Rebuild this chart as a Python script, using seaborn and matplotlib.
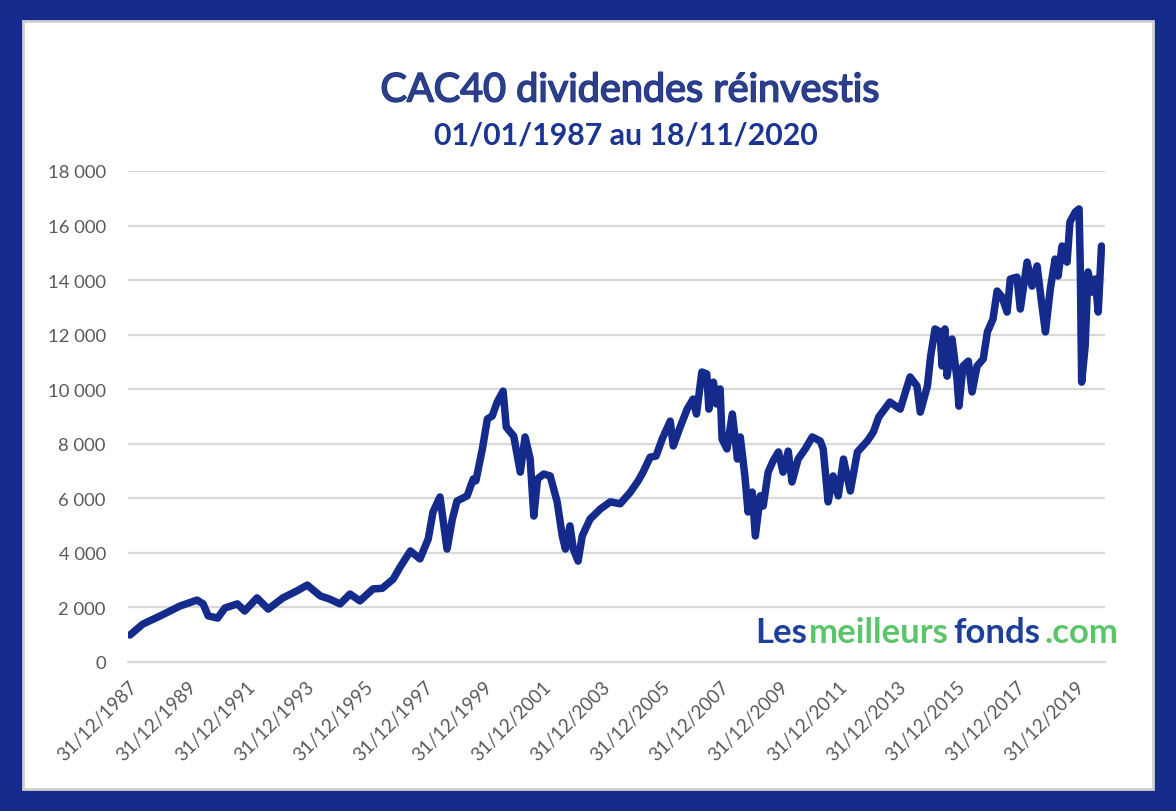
import matplotlib
matplotlib.use("Agg")
import matplotlib.pyplot as plt
import matplotlib.dates as mdates
import matplotlib.patheffects as pe
from matplotlib.patches import Rectangle
from matplotlib.ticker import FuncFormatter
import seaborn as sns
import pandas as pd

# values
dates = [
    "1988-01-25", "1988-07-01", "1989-02-01", "1989-10-01", "1990-04-30", "1990-07-15",
    "1990-09-15", "1991-01-10", "1991-04-10", "1991-09-10", "1991-12-10", "1992-05-10",
    "1992-09-25", "1993-03-25", "1993-09-10", "1994-01-20", "1994-07-01", "1994-10-20",
    "1995-03-01", "1995-07-01", "1995-11-01", "1996-04-10", "1996-08-01", "1996-12-15",
    "1997-03-10", "1997-07-15", "1997-11-10", "1998-02-20", "1998-04-20", "1998-07-15",
    "1998-10-10", "1998-12-15", "1999-02-10", "1999-06-15", "1999-08-30", "1999-10-01",
    "1999-12-20", "2000-02-20", "2000-04-20", "2000-06-20", "2000-09-01", "2000-10-10",
    "2001-01-10", "2001-04-01", "2001-05-30", "2001-08-01", "2001-09-15", "2001-10-30",
    "2002-01-15", "2002-04-05", "2002-06-30", "2002-09-01", "2002-10-10", "2002-12-05",
    "2003-01-15", "2003-03-15", "2003-05-05", "2003-08-10", "2003-12-15", "2004-04-15",
    "2004-08-15", "2004-12-20", "2005-03-25", "2005-05-25", "2005-08-20", "2005-11-01",
    "2006-01-15", "2006-04-25", "2006-06-01", "2006-08-25", "2006-11-20", "2007-02-01",
    "2007-03-15", "2007-05-20", "2007-07-20", "2007-08-15", "2007-10-10", "2007-11-15",
    "2007-12-31", "2008-01-25", "2008-03-25", "2008-05-30", "2008-08-01", "2008-09-05",
    "2008-11-01", "2008-12-10", "2009-01-30", "2009-03-10", "2009-05-10", "2009-06-15",
    "2009-08-15", "2009-10-15", "2009-12-20", "2010-02-15", "2010-04-20", "2010-06-05",
    "2010-08-20", "2010-11-15", "2011-02-10", "2011-05-20", "2011-06-25", "2011-08-25",
    "2011-10-25", "2011-12-28", "2012-03-01", "2012-05-25", "2012-08-20", "2012-12-20",
    "2013-03-05", "2013-05-10", "2013-09-25", "2014-01-30", "2014-06-01", "2014-08-25",
    "2014-10-05", "2015-01-01", "2015-02-10", "2015-04-05", "2015-06-05", "2015-07-01",
    "2015-08-05", "2015-09-01", "2015-11-01", "2016-01-01", "2016-01-25", "2016-03-15",
    "2016-05-20", "2016-07-05", "2016-09-05", "2016-11-20", "2017-01-10", "2017-03-20",
    "2017-05-10", "2017-07-10", "2017-09-10", "2017-10-20", "2018-01-10", "2018-02-20",
    "2018-05-15", "2018-07-15", "2018-09-15", "2018-11-15", "2018-12-27", "2019-02-25",
    "2019-04-25", "2019-06-01", "2019-07-20", "2019-09-20", "2019-10-25", "2019-12-31",
    "2020-02-15", "2020-03-01", "2020-03-18", "2020-04-30", "2020-06-05", "2020-07-25",
    "2020-09-01", "2020-10-08", "2020-11-18",
]
values = [
    990, 1390, 1690, 2050, 2270, 2130,
    1690, 1610, 1980, 2130, 1870, 2350,
    1940, 2350, 2600, 2820, 2420, 2310,
    2130, 2490, 2240, 2680, 2700, 3040,
    3480, 4070, 3780, 4510, 5500, 6050,
    4140, 5240, 5900, 6090, 6710, 6640,
    7810, 8910, 9020, 9530, 9930, 8610,
    8280, 6960, 8250, 7440, 5350, 6710,
    6890, 6820, 5870, 4620, 4140, 4990,
    4140, 3700, 4620, 5240, 5610, 5870,
    5800, 6230, 6640, 6960, 7510, 7550,
    8170, 8830, 7920, 8610, 9270, 9640,
    9090, 10630, 10560, 9270, 10260, 9460,
    10010, 8170, 7810, 9090, 7440, 8250,
    6820, 5500, 6230, 4620, 6090, 5720,
    6960, 7370, 7700, 6960, 7730, 6600,
    7440, 7810, 8250, 8100, 7810, 5870,
    6820, 6090, 7440, 6270, 7700, 8100,
    8430, 8980, 9530, 9270, 10450, 10120,
    9160, 10120, 11220, 12210, 12100, 10850,
    12210, 10480, 11840, 10370, 9380, 10850,
    11030, 9900, 10850, 11110, 12100, 12570,
    13600, 13380, 12830, 14040, 14110, 12940,
    14660, 13780, 14520, 13050, 12100, 13670,
    14770, 14150, 15250, 14660, 16130, 16500,
    16610, 14520, 10260, 11580, 14300, 13560,
    14040, 12830, 15250,
]
tick_dates = ["%d-12-31" % y for y in range(1987, 2020, 2)]
y_ticks = list(range(0, 18001, 2000))

title = "CAC40 dividendes réinvestis"
subtitle = "01/01/1987 au 18/11/2020"

df = pd.DataFrame({"date": pd.to_datetime(dates), "value": values})

BLUE = "#142b8c"
GREY = "#595959"

sns.set_style("white")
plt.rcParams["font.family"] = ["Lato", "DejaVu Sans"]

fig = plt.figure(figsize=(11.76, 8.12), dpi=100, facecolor=BLUE)
fig.patches.append(Rectangle((23 / 1176, 22 / 812), 1130 / 1176, 768 / 812,
                             transform=fig.transFigure, facecolor="white",
                             edgecolor="#d0d0d0", linewidth=2, zorder=-5))

ax = fig.add_axes([128 / 1176, 1 - 663 / 812, 977 / 1176, 491 / 812])
ax.set_zorder(2)
ax.patch.set_alpha(0)
sns.lineplot(data=df, x="date", y="value", ax=ax, color=BLUE, linewidth=5.4,
             solid_joinstyle="round", solid_capstyle="round", zorder=3)

ax.set_xlim(pd.Timestamp("1987-12-31"), pd.Timestamp("2020-12-31"))
ax.set_ylim(0, 18000)
ax.set_yticks(y_ticks)
ax.yaxis.set_major_formatter(FuncFormatter(lambda v, p: f"{int(v):,}".replace(",", " ")))
ax.set_xticks(pd.to_datetime(tick_dates))
ax.xaxis.set_major_formatter(mdates.DateFormatter("%d/%m/%Y"))
ax.grid(axis="y", color="#d9d9d9", linewidth=1.6, zorder=0)
ax.set_axisbelow(True)
for s in ["top", "right", "left"]:
    ax.spines[s].set_visible(False)
ax.spines["bottom"].set_color("#d9d9d9")
ax.spines["bottom"].set_linewidth(1.6)
ax.tick_params(axis="y", length=0, pad=16, labelsize=13.3, labelcolor=GREY)
ax.tick_params(axis="x", length=6, width=1.4, color="#d9d9d9", pad=5,
               labelsize=13.5, labelcolor=GREY)
for lab in ax.get_xticklabels():
    lab.set_rotation(45)
    lab.set_ha("right")
    lab.set_va("top")
    lab.set_rotation_mode("anchor")
ax.set_xlabel("")
ax.set_ylabel("")

fig.text(630 / 1176, 1 - 91 / 812, title, ha="center", va="center", fontsize=28.5,
         color="#2e3f85", path_effects=[pe.withStroke(linewidth=1.2, foreground="#1c3592")])
fig.text(626 / 1176, 1 - 136 / 812, subtitle, ha="center", va="center", fontsize=21.8,
         fontweight="bold", color="#1c3592")

# logo, drawn piece by piece
fig.canvas.draw()
renderer = fig.canvas.get_renderer()
parts = [("Les", "#1e3f9a", 0), ("meilleurs", "#5cc46a", 2), ("fonds", "#1e3f9a", 4), (".com", "#5cc46a", 5)]
x = 755
for txt, col, gap in parts:
    x += gap
    t = fig.text(x / 1176, 1 - 643 / 812, txt, ha="left", va="baseline", fontsize=25,
                 fontweight="bold", color=col)
    x = t.get_window_extent(renderer).x1

fig.savefig("out.png", dpi=100, facecolor=BLUE)
